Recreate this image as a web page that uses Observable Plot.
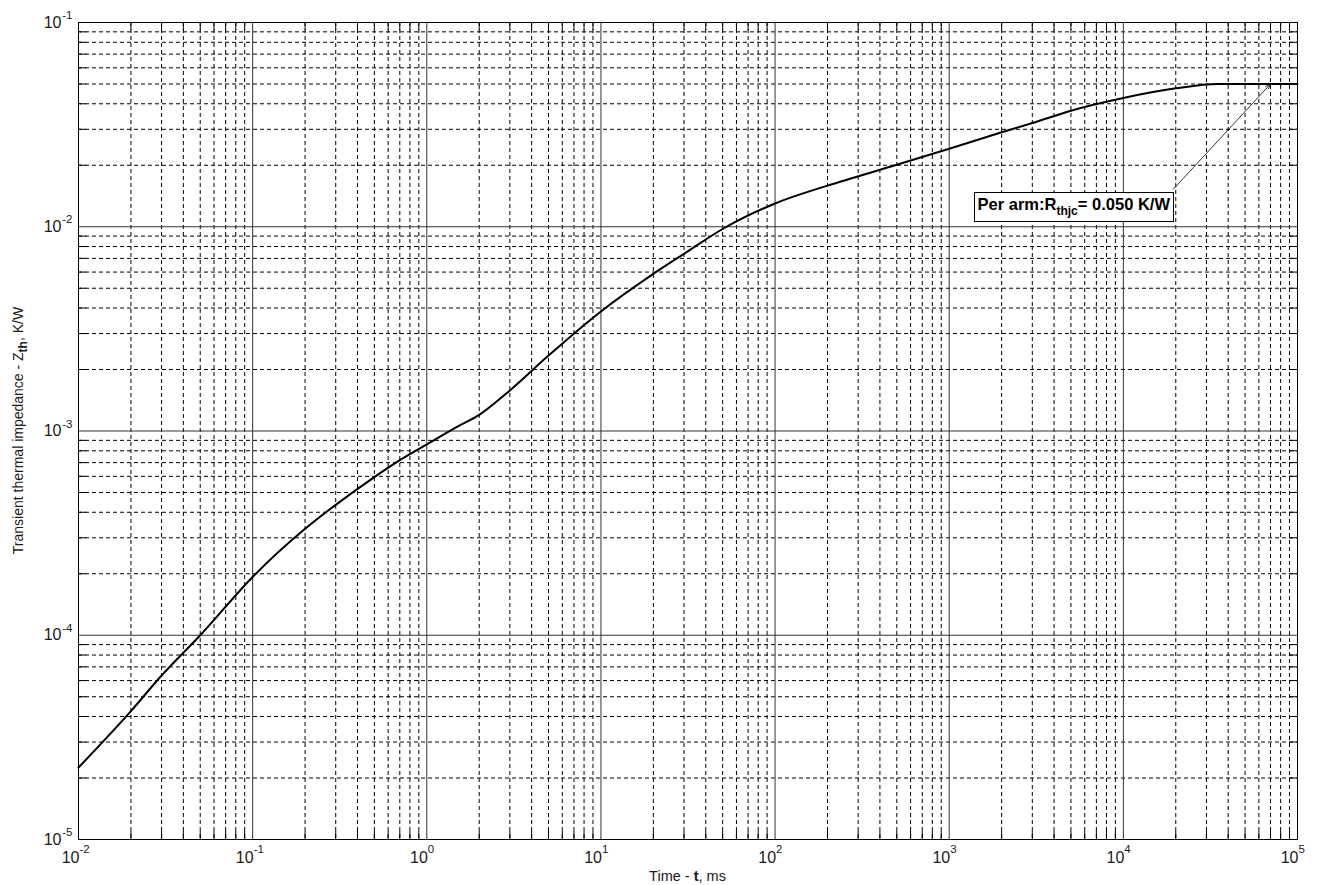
<!DOCTYPE html>
<html><head><meta charset="utf-8">
<script src="https://cdn.jsdelivr.net/npm/d3@7"></script>
<script src="https://cdn.jsdelivr.net/npm/@observablehq/plot@0.6"></script>
<style>
body{margin:0;background:#fff}
#chart svg{display:block}
</style>
</head><body><div id="chart"></div>
<script>
// ---- data ----
const timeMs = [0.01, 0.02, 0.03, 0.05, 0.1, 0.2, 0.3, 0.5, 0.7, 1, 1.5, 2, 3, 5, 10, 20, 30, 50, 100, 200, 500, 1000, 2000, 3000, 5000, 10000, 20000, 35000, 50000, 100000];
const zthKW  = [2.25e-5, 4.25e-5, 6.35e-5, 1.0e-4, 1.93e-4, 3.32e-4, 4.35e-4, 5.95e-4, 7.2e-4, 8.6e-4, 1.05e-3, 1.2e-3, 1.58e-3, 2.34e-3, 3.85e-3, 5.88e-3, 7.37e-3, 9.75e-3, 1.3e-2, 1.59e-2, 2.01e-2, 2.41e-2, 2.9e-2, 3.22e-2, 3.7e-2, 4.27e-2, 4.76e-2, 5.0e-2, 5.0e-2, 5.0e-2];
const xDecades = [-2, -1, 0, 1, 2, 3, 4, 5];
const yDecades = [-5, -4, -3, -2, -1];
const minorMultipliers = [2, 3, 4, 5, 6, 7, 8, 9];
const annotationTip  = [70000, 0.05];
const annotationTail = [19400, 0.0153];
const xTitle = ["Time - ", "t", ", ms"];
const yTitle = ["Transient thermal impedance - Z", "th", ", K/W"];
const boxText = ["Per arm:R", "thjc", "= 0.050 K/W"];

// ---- derived tables ----
const rows = timeMs.map((t, i) => ({t, z: zthKW[i]}));
const majorX = xDecades.map(e => 10 ** e);
const majorY = yDecades.map(e => 10 ** e);
const minorX = xDecades.slice(0, -1).flatMap(e => minorMultipliers.map(m => m * 10 ** e));
const minorY = yDecades.slice(0, -1).flatMap(e => minorMultipliers.map(m => m * 10 ** e));

const W = 1321, H = 885;
const FONT = "'Liberation Sans', Arial, Helvetica, sans-serif";
const TICK = 8;

const plot = Plot.plot({
  width: W, height: H,
  marginLeft: 78, marginRight: 24, marginTop: 22, marginBottom: 46,
  x: {type: "log", domain: [1e-2, 1e5], axis: null},
  y: {type: "log", domain: [1e-5, 1e-1], axis: null},
  style: {fontFamily: FONT, background: "#fff", color: "#222"},
  marks: [
    // minor dashed grid
    Plot.ruleX(minorX, {stroke: "#000", strokeWidth: 1, strokeDasharray: "4,3"}),
    Plot.ruleY(minorY, {stroke: "#000", strokeWidth: 1, strokeDasharray: "4,3"}),
    // major solid grid
    Plot.ruleX(majorX, {stroke: "#333", strokeWidth: 1}),
    Plot.ruleY(majorY, {stroke: "#333", strokeWidth: 1}),
    // inward tick marks on all four sides
    Plot.ruleX(minorX, {y1: 1e-5, y2: 1e-5, insetTop: -TICK, stroke: "#000"}),
    Plot.ruleX(minorX, {y1: 1e-1, y2: 1e-1, insetBottom: -TICK, stroke: "#000"}),
    Plot.ruleY(minorY, {x1: 1e-2, x2: 1e-2, insetRight: -TICK, stroke: "#000"}),
    Plot.ruleY(minorY, {x1: 1e5, x2: 1e5, insetLeft: -TICK, stroke: "#000"}),
    Plot.frame({stroke: "#000", strokeWidth: 1}),
    // curve
    Plot.line(rows, {x: "t", y: "z", stroke: "#000", strokeWidth: 2, curve: "monotone-x"}),
    // annotation arrow
    Plot.arrow([0], {x1: () => annotationTail[0], y1: () => annotationTail[1], x2: () => annotationTip[0], y2: () => annotationTip[1], stroke: "#000", strokeWidth: 0.8, headLength: 10, headAngle: 40}),
    // x tick labels 10^n
    Plot.text(xDecades, {x: e => 10 ** e, frameAnchor: "bottom", text: () => "10", textAnchor: "end", dx: 1, dy: 18, fontSize: 16, lineAnchor: "middle", fill: "#1a1a1a"}),
    Plot.text(xDecades, {x: e => 10 ** e, frameAnchor: "bottom", text: e => String(e), textAnchor: "start", dx: 1, dy: 10, fontSize: 11.5, lineAnchor: "middle", fill: "#1a1a1a"}),
    // y tick labels 10^n
    Plot.text(yDecades, {y: e => 10 ** e, frameAnchor: "left", text: () => "10", textAnchor: "end", dx: -17, dy: 0, fontSize: 16, lineAnchor: "middle", fill: "#1a1a1a"}),
    Plot.text(yDecades, {y: e => 10 ** e, frameAnchor: "left", text: e => String(e), textAnchor: "end", dx: -6, dy: -7, fontSize: 11.5, lineAnchor: "middle", fill: "#1a1a1a"})
  ]
});
document.getElementById("chart").appendChild(plot);

// ---- titles and annotation text with sub-scripts ----
const svg = d3.select(plot);
const sx = plot.scale("x"), sy = plot.scale("y");
const xMid = (sx.range[0] + sx.range[1]) / 2;
const yMid = (sy.range[0] + sy.range[1]) / 2;

const xt = svg.append("text")
  .attr("x", xMid).attr("y", H - 4)
  .attr("text-anchor", "middle")
  .attr("font-family", FONT).attr("font-size", 14.5).attr("fill", "#1a1a1a");
xt.append("tspan").text(xTitle[0]);
xt.append("tspan").attr("font-weight", "bold").text(xTitle[1]);
xt.append("tspan").text(xTitle[2]);

const yt = svg.append("text")
  .attr("transform", `translate(23,${yMid}) rotate(-90)`)
  .attr("text-anchor", "middle")
  .attr("font-family", FONT).attr("font-size", 14).attr("fill", "#1a1a1a");
yt.append("tspan").text(yTitle[0]);
yt.append("tspan").attr("font-weight", "bold").attr("font-size", 12).attr("dy", 4).text(yTitle[1]);
yt.append("tspan").attr("dy", -4).text(yTitle[2]);

// annotation box
const tx = sx.apply(annotationTail[0]), ty = sy.apply(annotationTail[1]);
const g = svg.append("g");
const rect = g.append("rect").attr("fill", "#fff").attr("stroke", "#000").attr("stroke-width", 1);
const bt = g.append("text")
  .attr("x", tx - 3).attr("y", ty + 21)
  .attr("text-anchor", "end")
  .attr("font-family", FONT).attr("font-size", 16.5).attr("font-weight", "bold").attr("fill", "#000");
bt.append("tspan").text(boxText[0]);
bt.append("tspan").attr("font-size", 12).attr("dy", 5).text(boxText[1]);
bt.append("tspan").attr("dy", -5).text(boxText[2]);
const bb = bt.node().getBBox();
rect.attr("x", Math.round(bb.x) - 3.5).attr("y", Math.round(ty) + 3.5)
    .attr("width", Math.round(bb.width) + 6).attr("height", 29);
</script>
</body></html>
